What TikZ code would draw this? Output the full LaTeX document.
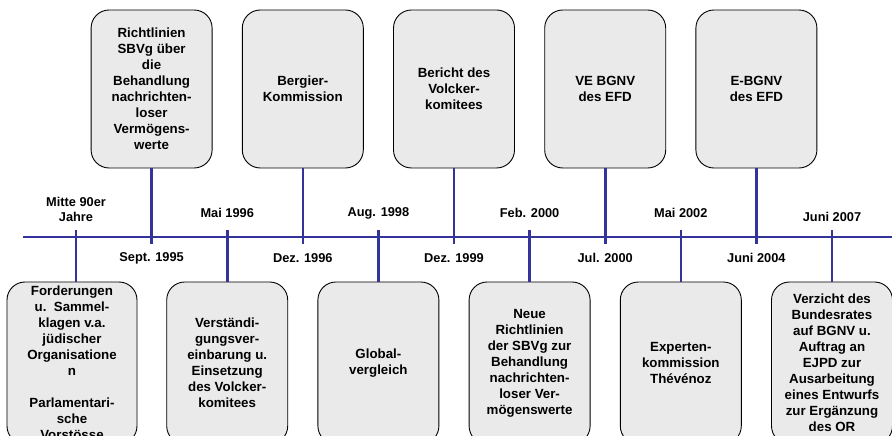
\documentclass[tikz,border=0pt]{standalone}
\usepackage{fontspec}
\setmainfont{Liberation Sans}
\usetikzlibrary{calc}
\definecolor{tlblue}{RGB}{51,51,153}
\definecolor{boxgray}{RGB}{234,234,234}
\tikzset{
  evbox/.style={draw=black,line width=0.9bp,fill=boxgray,rounded corners=18bp,minimum width=121bp,minimum height=158bp,align=center,inner sep=2bp,font=\fontsize{13.3bp}{16bp}\selectfont\bfseries},
  lowbox/.style={evbox,minimum height=162bp},
  datelbl/.style={align=center,inner sep=0pt,font=\fontsize{12.8bp}{15.5bp}\selectfont\bfseries},
  tline/.style={draw=tlblue,line width=2.6bp}
}
\begin{document}
\begin{tikzpicture}[x=1bp,y=-1bp]
\useasboundingbox (0,0) rectangle (892,436);
\coordinate (dx) at (75.6,0);
\coordinate (a0) at (76,237);
\coordinate (a1) at ($(a0)+(dx)$);
\coordinate (a2) at ($(a1)+(dx)$);
\coordinate (a3) at ($(a2)+(dx)$);
\coordinate (a4) at ($(a3)+(dx)$);
\coordinate (a5) at ($(a4)+(dx)$);
\coordinate (a6) at ($(a5)+(dx)$);
\coordinate (a7) at ($(a6)+(dx)$);
\coordinate (a8) at ($(a7)+(dx)$);
\coordinate (a9) at ($(a8)+(dx)$);
\coordinate (a10) at ($(a9)+(dx)$);

% timeline
\coordinate (tl0) at (23,237);
\coordinate (tl1) at (892,237);
\draw[tline] (tl0) -- (tl1);

% boxes above the line
\node[evbox] (e1) at ($(a1)+(0,-148)$) {Richtlinien\\SBVg über\\die\\Behandlung\\nachrichten-\\loser\\Vermögens-\\werte};
\node[evbox] (e3) at ($(a3)+(0,-148)$) {Bergier-\\Kommission};
\node[evbox] (e5) at ($(a5)+(0,-148)$) {Bericht des\\Volcker-\\komitees};
\node[evbox] (e7) at ($(a7)+(0,-148)$) {VE BGNV\\des EFD};
\node[evbox] (e9) at ($(a9)+(0,-148)$) {E-BGNV\\des EFD};

% boxes below the line
\node[lowbox,minimum width=130bp] (e0) at ($(a0)+(-4,126)$) {Forderungen\\u.\ \ Sammel-\\klagen v.a.\\jüdischer\\Organisatione\\n\\[16bp]Parlamentari-\\sche\\Vorstösse};
\node[lowbox] (e2) at ($(a2)+(0,126)$) {Verständi-\\gungsver-\\einbarung u.\\Einsetzung\\des Volcker-\\komitees};
\node[lowbox] (e4) at ($(a4)+(0,126)$) {Global-\\vergleich};
\node[lowbox] (e6) at ($(a6)+(0,126)$) {Neue\\Richtlinien\\der SBVg zur\\Behandlung\\nachrichten-\\loser Ver-\\mögenswerte};
\node[lowbox] (e8) at ($(a8)+(0,126)$) {Experten-\\kommission\\Thévénoz};
\node[lowbox] (e10) at ($(a10)+(0,126)$) {Verzicht des\\Bundesrates\\auf BGNV u.\\Auftrag an\\EJPD zur\\Ausarbeitung\\eines Entwurfs\\zur Ergänzung\\des OR};

% ticks
\coordinate (s1) at ($(a1)+(0,7)$);
\coordinate (s3) at ($(a3)+(0,7)$);
\coordinate (s5) at ($(a5)+(0,7)$);
\coordinate (s7) at ($(a7)+(0,7)$);
\coordinate (s9) at ($(a9)+(0,7)$);
\coordinate (n0) at ($(a0)+(0,-7)$);
\coordinate (n2) at ($(a2)+(0,-7)$);
\coordinate (n4) at ($(a4)+(0,-7)$);
\coordinate (n6) at ($(a6)+(0,-7)$);
\coordinate (n8) at ($(a8)+(0,-7)$);
\coordinate (n10) at ($(a10)+(0,-7)$);
\draw[tline] (e1.south) -- (s1) (e3.south) -- (s3) (e5.south) -- (s5) (e7.south) -- (s7) (e9.south) -- (s9);
\draw[tline] (n0) -- (n0 |- e0.north) (n2) -- (e2.north) (n4) -- (e4.north) (n6) -- (e6.north) (n8) -- (e8.north) (n10) -- (e10.north);

% dates
\node[datelbl] (d0) at ($(a0)+(0,-27.5)$) {Mitte 90er\\Jahre};
\node[datelbl] (d1) at ($(a1)+(0,21)$) {Sept. 1995};
\node[datelbl] (d2) at ($(a2)+(0,-24)$) {Mai 1996};
\node[datelbl] (d3) at ($(a3)+(0,21)$) {Dez. 1996};
\node[datelbl] (d4) at ($(a4)+(0,-24)$) {Aug. 1998};
\node[datelbl] (d5) at ($(a5)+(0,21)$) {Dez. 1999};
\node[datelbl] (d6) at ($(a6)+(0,-24)$) {Feb. 2000};
\node[datelbl] (d7) at ($(a7)+(0,21)$) {Jul. 2000};
\node[datelbl] (d8) at ($(a8)+(0,-24)$) {Mai 2002};
\node[datelbl] (d9) at ($(a9)+(0,21)$) {Juni 2004};
\node[datelbl] (d10) at ($(a10)+(0,-20)$) {Juni 2007};

\end{tikzpicture}
\end{document}
